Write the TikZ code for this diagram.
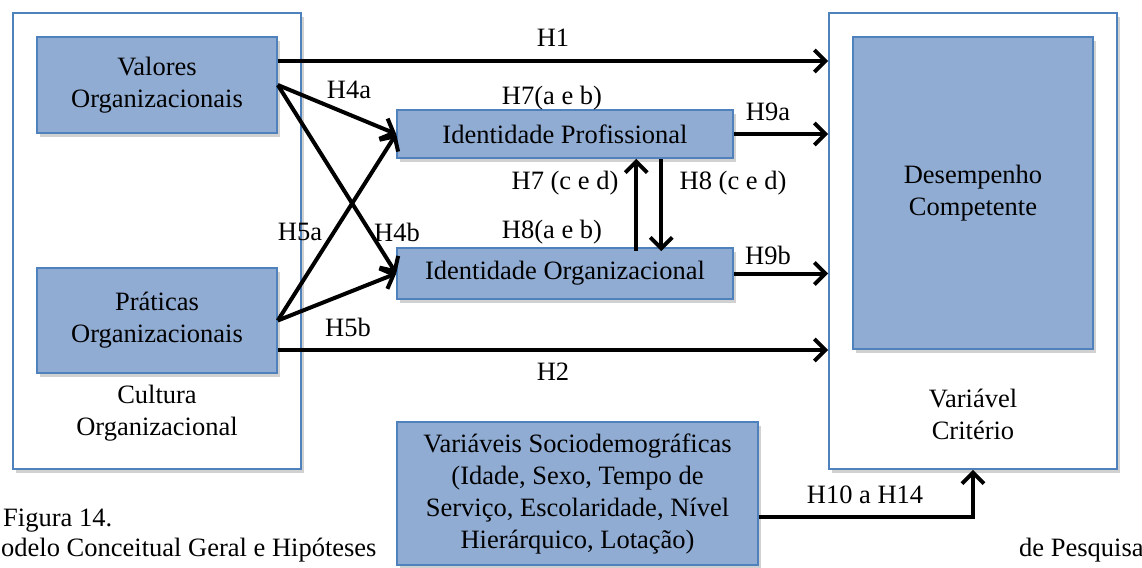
\documentclass[tikz,border=0pt]{standalone}
\usepackage{fontspec}
\setmainfont{Liberation Serif}
\usetikzlibrary{arrows.meta,shadows,calc}
\definecolor{boxfill}{RGB}{144,172,211}
\definecolor{boxline}{RGB}{79,129,189}
\tikzset{
  every node/.style={font=\fontsize{26.5}{32}\selectfont},
  shade/.style={drop shadow={shadow xshift=3pt,shadow yshift=-4pt,fill=black,opacity=.18}},
  outerbox/.style={draw=boxline,line width=1.6pt,fill=white,shade,minimum width=#1,inner sep=0pt},
  bluebox/.style={draw=boxline,line width=1.6pt,fill=boxfill,shade,align=center,inner sep=0pt},
  arr/.style={line width=4pt,-{Straight Barb[length=11pt,width=22pt]}},
  lbl/.style={inner sep=0pt,align=center},
}
\begin{document}
\begin{tikzpicture}[x=1pt,y=-1pt]
\clip (0,0) rectangle (1142,567);
\fill[white] (0,0) rectangle (1142,567);

% outer frames
\node[outerbox=288pt,minimum height=456pt] (lout) at (157,241) {};
\node[outerbox=288pt,minimum height=456pt] (rout) at (973,241) {};

% blue boxes
\node[bluebox,minimum width=240pt,minimum height=96pt] (val) at (157,85) {Valores\\Organizacionais};
\node[bluebox,minimum width=240pt,minimum height=105pt] (prat) at (157,320.5) {Práticas\\Organizacionais};
\node[bluebox,minimum width=336pt,minimum height=48pt] (ip) at (565,134) {Identidade Profissional};
\node[bluebox,minimum width=336pt,minimum height=51pt] (io) at (565,273.5) {Identidade Organizacional};
\node[bluebox,minimum width=240pt,minimum height=312pt] (des) at (973,193) {Desempenho\\Competente};
\node[bluebox,minimum width=361pt,minimum height=143pt] (soc) at (577.5,493.5)
  {Variáveis Sociodemográficas\\(Idade, Sexo, Tempo de\\Serviço, Escolaridade, Nível\\Hierárquico, Lotação)};

% frame captions
\node[lbl] (cult) at (157,413) {Cultura\\Organizacional};
\node[lbl] (crit) at (973,414) {Variável\\Critério};

% connector end points
\coordinate (h1s) at ($(val.east)+(0,-24)$);
\coordinate (h2s) at ($(prat.east)+(0,29.5)$);
\coordinate (h10s) at ($(soc.east)+(0,23.5)$);

% connectors
\draw[arr] (h1s) -- (rout.west |- h1s);
\draw[arr] (h2s) -- (rout.west |- h2s);
\draw[arr] (val.east) -- (ip.west);
\draw[arr] (val.east) -- (io.west);
\draw[arr] (prat.east) -- (ip.west);
\draw[arr] (prat.east) -- (io.west);
\draw[arr] (ip.east) -- (rout.west |- ip.east);
\draw[arr] (io.east) -- (rout.west |- io.east);
\draw[arr] ([xshift=240pt,yshift=-4pt]io.north west) -- ([xshift=240pt]ip.south west);
\draw[arr] ([xshift=265pt]ip.south west) -- ([xshift=265pt,yshift=-4pt]io.north west);
\draw[arr] (h10s) -- (rout.south |- h10s) -- (rout.south);

% hypothesis labels
\node[lbl] (lh1) at (553,38) {H1};
\node[lbl] (lh2) at (553,372) {H2};
\node[lbl] (lh4a) at (349,90) {H4a};
\node[lbl] (lh4b) at (397,232) {H4b};
\node[lbl] (lh5a) at (300,232) {H5a};
\node[lbl] (lh5b) at (348,327) {H5b};
\node[lbl] (lh7ab) at (552,98) {H7(a e b)};
\node[lbl] (lh8ab) at (552,232) {H8(a e b)};
\node[lbl] (lh7cd) at (565,183) {H7 (c e d)};
\node[lbl] (lh8cd) at (733,183) {H8 (c e d)};
\node[lbl] (lh9a) at (768,112) {H9a};
\node[lbl] (lh9b) at (768,255) {H9b};
\node[lbl] (lh10) at (865,495) {H10 a H14};

% figure caption
\node[lbl,anchor=west] (fig) at (3,521) {Figura 14.};
\node[lbl,anchor=west] (tit) at (1,550) {odelo Conceitual Geral e Hipóteses};
\node[lbl,anchor=west] (tit2) at (1019,550) {de Pesquisa};
\end{tikzpicture}
\end{document}
